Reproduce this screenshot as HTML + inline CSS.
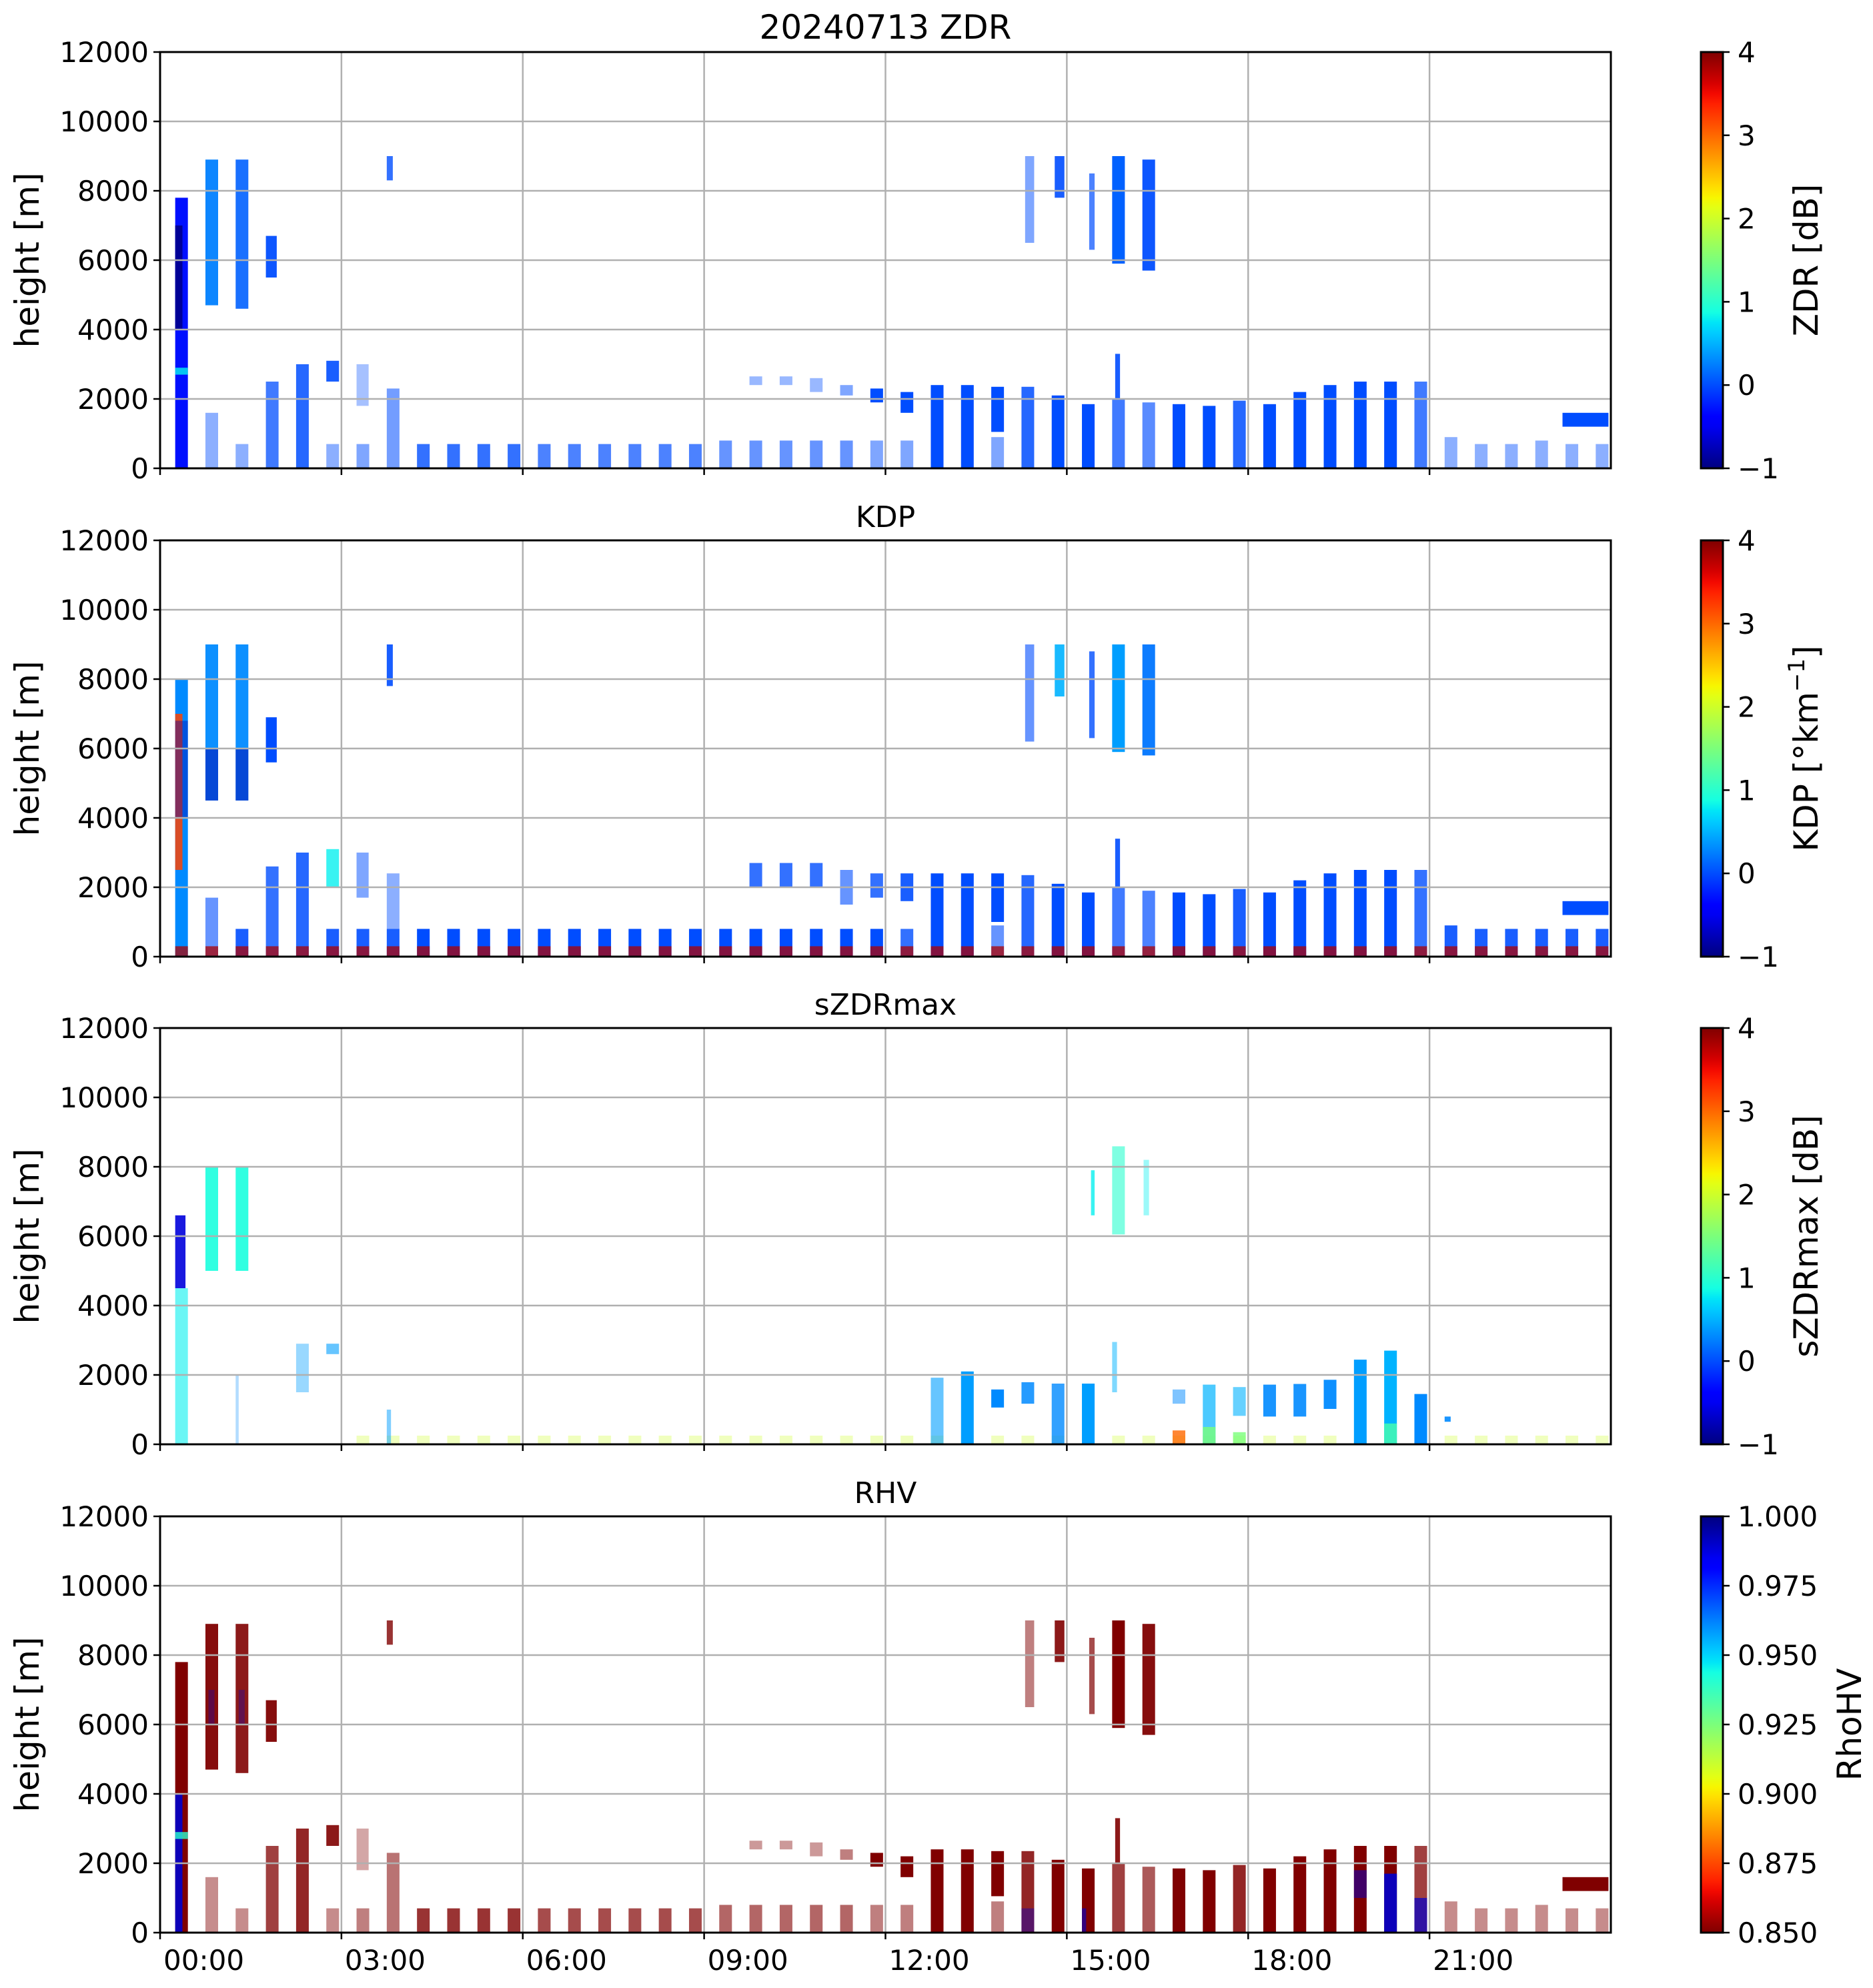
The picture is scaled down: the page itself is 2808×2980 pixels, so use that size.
<!DOCTYPE html>
<html>
<head>
<meta charset="utf-8">
<style>
  html,body{margin:0;padding:0;background:#fff;}
  svg{display:block;}
  text{font-family:"DejaVu Sans","Liberation Sans",sans-serif;fill:#000;}
</style>
</head>
<body>
<svg id="fig" width="2808" height="2980" viewBox="0 0 2808 2980" xmlns="http://www.w3.org/2000/svg"></svg>
<script>
// ---------- shared data ----------
const scanStart = [0.25,0.75,1.25,1.75,2.25,2.75,3.25,3.75,4.25,4.75,5.25,5.75,
  6.25,6.75,7.25,7.75,8.25,8.75,9.25,9.75,10.25,10.75,11.25,11.75,
  12.25,12.75,13.25,13.75,14.25,14.75,15.25,15.75,16.25,16.75,17.25,17.75,
  18.25,18.75,19.25,19.75,20.25,20.75,21.25,21.75,22.25,22.75,23.25,23.75];
const scanDuration = 0.21;
const xTickHours = [0,3,6,9,12,15,18,21];
const xTickLabels = ["00:00","03:00","06:00","09:00","12:00","15:00","18:00","21:00"];
const yTicks = [0,2000,4000,6000,8000,10000,12000];
const yTickLabels = ["0","2000","4000","6000","8000","10000","12000"];

// ---------- ZDR ----------
const zdrLowTop = [7800,1600,700,2500,3000,700,700,2300,700,700,700,700,
  700,700,700,700,700,700,800,800,800,800,800,800,
  800,2400,2400,900,2350,2100,1850,2000,1900,1850,1800,1950,
  1850,2200,2400,2500,2500,2500,900,700,700,800,700,700];
const zdrLowDensity = [1,0.45,0.45,0.75,0.85,0.45,0.5,0.55,0.8,0.8,0.8,0.8,
  0.7,0.7,0.7,0.7,0.7,0.7,0.6,0.6,0.6,0.6,0.6,0.5,
  0.5,1,1,0.5,0.85,1,1,0.75,0.65,1,1,0.85,
  1,1,1,1,1,0.75,0.45,0.45,0.45,0.45,0.45,0.45];
const zdrLowValue = [-0.3,0,0,0,0,0,0,0,0,0,0,0, 0,0,0,0,0,0,0,0,0,0,0,0,
  0,0,0,0,0,0,0,0,0,0,0,0, 0,0,0,0,0,0,0,0,0,0,0,0];
// [startHour, endHour, bottom m, top m, value, density]
const zdrPatches = [
  [0.25,0.37,4000,7000,-0.9,1],[0.25,0.46,2700,2900,0.8,0.8],
  [0.75,0.96,4700,8900,0.25,0.95],[1.25,1.46,4600,8900,0.1,0.9],
  [1.75,1.93,5500,6700,0,0.95],[2.75,2.96,2500,3100,0,0.9],
  [3.25,3.45,1800,3000,0,0.35],[3.75,3.85,8300,9000,0,0.8],
  [9.75,9.96,2400,2650,0,0.4],[10.25,10.46,2400,2650,0,0.4],
  [10.75,10.96,2200,2600,0,0.4],[11.25,11.46,2100,2400,0,0.5],
  [11.75,11.96,1900,2300,0,1],[12.25,12.46,1600,2200,0,1],
  [13.75,13.96,1050,2350,0,1],[14.31,14.46,6500,9000,0,0.5],
  [14.8,14.96,7800,9000,0,0.9],[15.37,15.46,6300,8500,0,0.7],
  [15.75,15.96,5900,9000,0.1,1],[16.25,16.46,5700,8900,0,0.95],
  [15.8,15.88,2000,3300,0,0.9],[23.2,23.96,1200,1600,0,1]
];

// ---------- KDP ----------
const kdpLowTop = [8000,1700,800,2600,3000,800,800,800,800,800,800,800,
  800,800,800,800,800,800,800,800,800,800,800,800,
  800,2400,2400,900,2350,2100,1850,2000,1900,1850,1800,1950,
  1850,2200,2400,2500,2500,2500,900,800,800,800,800,800];
const kdpLowDensity = [1,0.6,0.9,0.8,0.85,0.9,0.9,0.9,1,1,1,1,
  1,1,1,1,1,1,1,1,1,1,1,1,
  0.8,1,1,0.6,0.85,1,1,0.75,0.7,1,1,0.9,
  1,1,1,1,1,0.8,0.9,0.9,0.9,0.9,0.9,0.9];
const kdpLowValue = [0.3,0,0,0,0,0,0,0,0,0,0,0, 0,0,0,0,0,0,0,0,0,0,0,0,
  0,0,0,0,0,0,0,0,0,0,0,0, 0,0,0,0,0,0,0,0,0,0,0,0];
const kdpPatches = [
  [0.25,0.37,2500,7000,3.2,0.85],[0.25,0.46,4000,6800,-0.8,0.4],
  [0.75,0.96,4500,9000,0.3,0.95],[0.75,0.96,4500,6000,-0.8,0.5],
  [1.25,1.46,4500,9000,0.3,0.95],[1.25,1.46,4500,6000,-0.8,0.5],
  [1.75,1.93,5600,6900,0,1],[2.75,2.96,2000,3100,0.8,0.8],
  [3.25,3.45,1700,3000,0,0.5],[3.75,3.85,7800,9000,0,0.9],
  [3.75,3.96,800,2400,0,0.45],
  [9.75,9.96,2000,2700,0,0.8],[10.25,10.46,2000,2700,0,0.8],
  [10.75,10.96,2000,2700,0,0.8],[11.25,11.46,1500,2500,0,0.6],
  [11.75,11.96,1700,2400,0,0.8],[12.25,12.46,1600,2400,0,0.9],
  [13.75,13.96,1000,2400,0,1],[14.31,14.46,6200,9000,0,0.6],
  [14.8,14.96,7500,9000,0.5,0.9],[15.37,15.46,6300,8800,0,0.8],
  [15.75,15.96,5900,9000,0.4,1],[16.25,16.46,5800,9000,0.2,0.95],
  [15.8,15.88,2000,3400,0,0.9],[23.2,23.96,1200,1600,0,1]
];
const kdpBottomTop = 300;
const kdpBottomValue = 3.8;

// ---------- sZDRmax ----------
const szdrPatches = [
  [0.25,0.42,4500,6600,-0.6,0.9],[0.25,0.46,0,4500,0.8,0.6],
  [0.75,0.96,5000,8000,0.9,0.9],[1.25,1.46,5000,8000,0.9,0.9],
  [1.25,1.3,0,2000,0.3,0.3],[2.25,2.46,1500,2900,0.4,0.4],[2.75,2.96,2600,2900,0.4,0.6],
  [3.75,3.82,0,1000,0.4,0.5],
  [12.75,12.96,0,1920,0.4,0.6],[13.25,13.46,0,2100,0.4,1],
  [13.75,13.96,1060,1580,0.3,1],[14.25,14.46,1170,1790,0.3,0.85],
  [14.75,14.96,0,1750,0.3,0.8],[15.25,15.46,0,1750,0.4,1],
  [15.75,15.83,1500,2950,0.5,0.5],[15.4,15.46,6600,7900,0.8,0.8],
  [15.75,15.96,6050,8590,1,0.6],[16.27,16.36,6600,8200,0.8,0.4],
  [16.75,16.96,1170,1580,0.3,0.5],[17.25,17.46,0,1720,0.5,0.7],
  [17.75,17.96,820,1650,0.5,0.6],[18.25,18.46,800,1720,0.3,0.9],
  [18.75,18.96,800,1740,0.3,0.9],[19.25,19.46,1020,1860,0.3,0.95],
  [19.75,19.96,0,2440,0.4,1],[20.25,20.46,0,2700,0.5,1],
  [20.25,20.46,0,600,1.2,0.8],[20.75,20.96,0,1450,0.3,1],
  [21.25,21.35,650,800,0.3,0.9],
  [16.75,16.96,0,400,3,0.8],[17.25,17.46,0,500,1.5,0.8],[17.75,17.96,0,350,1.5,0.8]
];
const szdrBottomTop = 250;
const szdrBottomValue = 2;
const szdrBottomDensity = 0.3;

// ---------- RHV ----------
const rhvLowValue = 0.85;
const rhvPatches = [
  [0.25,0.37,0,4000,0.99,0.9],[0.25,0.46,2700,2900,0.94,0.8],
  [0.75,0.96,4700,8900,0.85,0.95],[1.25,1.46,4600,8900,0.85,0.9],
  [0.8,0.9,6000,7000,0.99,0.3],[1.3,1.4,6000,7000,0.99,0.3],
  [1.75,1.93,5500,6700,0.85,0.95],[2.75,2.96,2500,3100,0.85,0.9],
  [3.25,3.45,1800,3000,0.85,0.35],[3.75,3.85,8300,9000,0.85,0.8],
  [9.75,9.96,2400,2650,0.85,0.4],[10.25,10.46,2400,2650,0.85,0.4],
  [10.75,10.96,2200,2600,0.85,0.4],[11.25,11.46,2100,2400,0.85,0.5],
  [11.75,11.96,1900,2300,0.85,1],[12.25,12.46,1600,2200,0.85,1],
  [13.75,13.96,1050,2350,0.85,1],[14.31,14.46,6500,9000,0.85,0.5],
  [14.8,14.96,7800,9000,0.85,0.9],[15.37,15.46,6300,8500,0.85,0.7],
  [15.75,15.96,5900,9000,0.85,1],[16.25,16.46,5700,8900,0.85,0.95],
  [15.8,15.88,2000,3300,0.85,0.9],[23.2,23.96,1200,1600,0.85,1],
  [14.25,14.46,0,700,0.99,0.4],[15.25,15.32,0,700,0.99,0.6],
  [19.75,19.96,1000,1800,0.99,0.5],[20.25,20.46,0,1700,0.99,0.9],
  [20.75,20.96,0,1000,0.99,0.7]
];

// ---------- layout ----------
const axL = 240, axR = 2415, panelH = 624;
const panelTops = [78, 810, 1541, 2273];
const cbL = 2550, cbR = 2583;
const NS = "http://www.w3.org/2000/svg";
const svg = document.getElementById('fig');

function el(tag, attrs, parent){
  const e = document.createElementNS(NS, tag);
  for (const k in attrs) e.setAttribute(k, attrs[k]);
  (parent || svg).appendChild(e);
  return e;
}
const jetR = [[0,0],[0.35,0],[0.66,1],[0.89,1],[1,0.5]];
const jetG = [[0,0],[0.125,0],[0.375,1],[0.64,1],[0.91,0],[1,0]];
const jetB = [[0,0.5],[0.11,1],[0.34,1],[0.65,0],[1,0]];
function interp(pts, t){
  for (let i=1;i<pts.length;i++){
    if (t <= pts[i][0]){
      const a=pts[i-1], b=pts[i];
      return a[1] + (b[1]-a[1])*(t-a[0])/(b[0]-a[0]);
    }
  }
  return pts[pts.length-1][1];
}
function jet(t){
  t = Math.max(0, Math.min(1, t));
  const r = Math.round(255*interp(jetR,t)), g = Math.round(255*interp(jetG,t)), b = Math.round(255*interp(jetB,t));
  return `rgb(${r},${g},${b})`;
}

function makePanel(idx, cfg){
  const top = panelTops[idx], bot = top + panelH;
  const xs = h => axL + (axR-axL)*h/24;
  const ys = m => bot - panelH*m/12000;
  const norm = v => { const t = (v - cfg.vmin)/(cfg.vmax - cfg.vmin); return cfg.reverse ? 1-t : t; };
  const col = v => jet(norm(v));
  const g = el('g', {});
  
  

  const t = el('text', {x:(axL+axR)/2, y: top-20, 'font-size': cfg.titleSize, 'text-anchor':'middle'}, g);
  t.textContent = cfg.title;
  
  

  const data = el('g', {}, g);
  
  
  function block(h0,h1,m0,m1,v,d,nm){
    const r = el('rect', {x: xs(h0), y: ys(m1), width: Math.max(1, xs(h1)-xs(h0)), height: Math.max(1, ys(m0)-ys(m1)), fill: col(v), 'fill-opacity': d}, data);
    
    
  }
  if (cfg.lowTop){
    for (let i=0;i<scanStart.length;i++){
      block(scanStart[i], scanStart[i]+scanDuration, 0, cfg.lowTop[i], cfg.lowValue[i], cfg.lowDensity[i], 'scan-column');
      if (cfg.bottomTop){
        block(scanStart[i], scanStart[i]+scanDuration, 0, cfg.bottomTop, cfg.bottomValue, cfg.bottomDensity, 'scan-base-layer');
      }
    }
  } else if (cfg.bottomTop){
    for (let i=6;i<scanStart.length;i++){
      block(scanStart[i], scanStart[i]+scanDuration, 0, cfg.bottomTop, cfg.bottomValue, cfg.bottomDensity, 'scan-base-layer');
    }
  }
  for (const p of cfg.patches){
    block(p[0],p[1],p[2],p[3],p[4],p[5],'echo-patch');
  }

  const grid = el('g', {stroke:'#b0b0b0', 'stroke-width':2.5}, g);
  
  
  for (const h of xTickHours){ if (h>0) el('line',{x1:xs(h),x2:xs(h),y1:top,y2:bot},grid); }
  for (const m of yTicks){ if (m>0 && m<12000) el('line',{x1:axL,x2:axR,y1:ys(m),y2:ys(m)},grid); }

  const fr = el('rect', {x:axL, y:top, width:axR-axL, height:panelH, fill:'none', stroke:'#000', 'stroke-width':3}, g);
  
  

  const yax = el('g', {}, g);
  
  
  for (let i=0;i<yTicks.length;i++){
    const y = ys(yTicks[i]);
    el('line',{x1:axL-10,x2:axL,y1:y,y2:y,stroke:'#000','stroke-width':2.5},yax);
    const tl = el('text',{x:axL-17,y:y+15,'font-size':42,'text-anchor':'end'},yax);
    tl.textContent = yTickLabels[i];
    
    
  }
  const yl = el('text',{x:0,y:0,'font-size':50,'text-anchor':'middle',transform:`translate(58,${(top+bot)/2}) rotate(-90)`},yax);
  yl.textContent = 'height [m]';
  
  

  const xax = el('g', {}, g);
  
  
  for (let i=0;i<xTickHours.length;i++){
    const x = xs(xTickHours[i]);
    el('line',{x1:x,x2:x,y1:bot,y2:bot+10,stroke:'#000','stroke-width':2.5},xax);
    if (cfg.showX){
      const tl = el('text',{x:x+5,y:bot+56,'font-size':42},xax);
      tl.textContent = xTickLabels[i];
      
      
    }
  }

  const cb = el('g', {}, g);
  
  
  const gid = 'grad' + idx;
  const defs = el('defs', {}, cb);
  const lg = el('linearGradient', {id:gid, x1:0, y1:1, x2:0, y2:0}, defs);
  for (let k=0;k<=40;k++){
    const tt = k/40;
    el('stop',{offset:tt, 'stop-color': jet(cfg.reverse ? 1-tt : tt)}, lg);
  }
  el('rect',{x:cbL,y:top,width:cbR-cbL,height:panelH,fill:`url(#${gid})`,stroke:'#000','stroke-width':3},cb);
  for (let i=0;i<cfg.cbTicks.length;i++){
    const y = bot - panelH*(cfg.cbTicks[i]-cfg.vmin)/(cfg.vmax-cfg.vmin);
    el('line',{x1:cbR,x2:cbR+10,y1:y,y2:y,stroke:'#000','stroke-width':2.5},cb);
    const tl = el('text',{x:cbR+22,y:y+15,'font-size':42},cb);
    tl.textContent = cfg.cbLabels[i];
    
    
  }
  const cl = el('text',{x:0,y:0,'font-size':50,'text-anchor':'middle',transform:`translate(${cfg.cbLabelX},${(top+bot)/2}) rotate(-90)`},cb);
  if (cfg.cbTitleSup){
    const a = el('tspan',{},cl); a.textContent = cfg.cbTitle;
    const s = el('tspan',{'baseline-shift':'super','font-size':34},cl); s.textContent = cfg.cbTitleSup;
    const c = el('tspan',{},cl); c.textContent = ']';
  } else {
    cl.textContent = cfg.cbTitle;
  }
  
  
}

const dbTicks = [-1,0,1,2,3,4];
const dbLabels = ["\u22121","0","1","2","3","4"];
makePanel(0, {name:'zdr', title:'20240713 ZDR', titleSize:50, vmin:-1, vmax:4,
  lowTop:zdrLowTop, lowDensity:zdrLowDensity, lowValue:zdrLowValue, patches:zdrPatches,
  cbTicks:dbTicks, cbLabels:dbLabels, cbTitle:'ZDR [dB]', cbLabelX:2725, showX:false});
makePanel(1, {name:'kdp', title:'KDP', titleSize:44, vmin:-1, vmax:4,
  lowTop:kdpLowTop, lowDensity:kdpLowDensity, lowValue:kdpLowValue, patches:kdpPatches,
  bottomTop:kdpBottomTop, bottomValue:kdpBottomValue, bottomDensity:0.75,
  cbTicks:dbTicks, cbLabels:dbLabels, cbTitle:'KDP [\u00b0km', cbTitleSup:'\u22121', cbLabelX:2725, showX:false});
makePanel(2, {name:'szdrmax', title:'sZDRmax', titleSize:44, vmin:-1, vmax:4,
  lowTop:null, patches:szdrPatches,
  bottomTop:szdrBottomTop, bottomValue:szdrBottomValue, bottomDensity:szdrBottomDensity,
  cbTicks:dbTicks, cbLabels:dbLabels, cbTitle:'sZDRmax [dB]', cbLabelX:2725, showX:false});
makePanel(3, {name:'rhv', title:'RHV', titleSize:44, vmin:0.85, vmax:1.0, reverse:true,
  lowTop:zdrLowTop, lowDensity:zdrLowDensity, lowValue:zdrLowValue.map(()=>rhvLowValue), patches:rhvPatches,
  cbTicks:[0.85,0.875,0.9,0.925,0.95,0.975,1.0], cbLabels:["0.850","0.875","0.900","0.925","0.950","0.975","1.000"],
  cbTitle:'RhoHV', cbLabelX:2790, showX:true});
</script>
</body>
</html>
